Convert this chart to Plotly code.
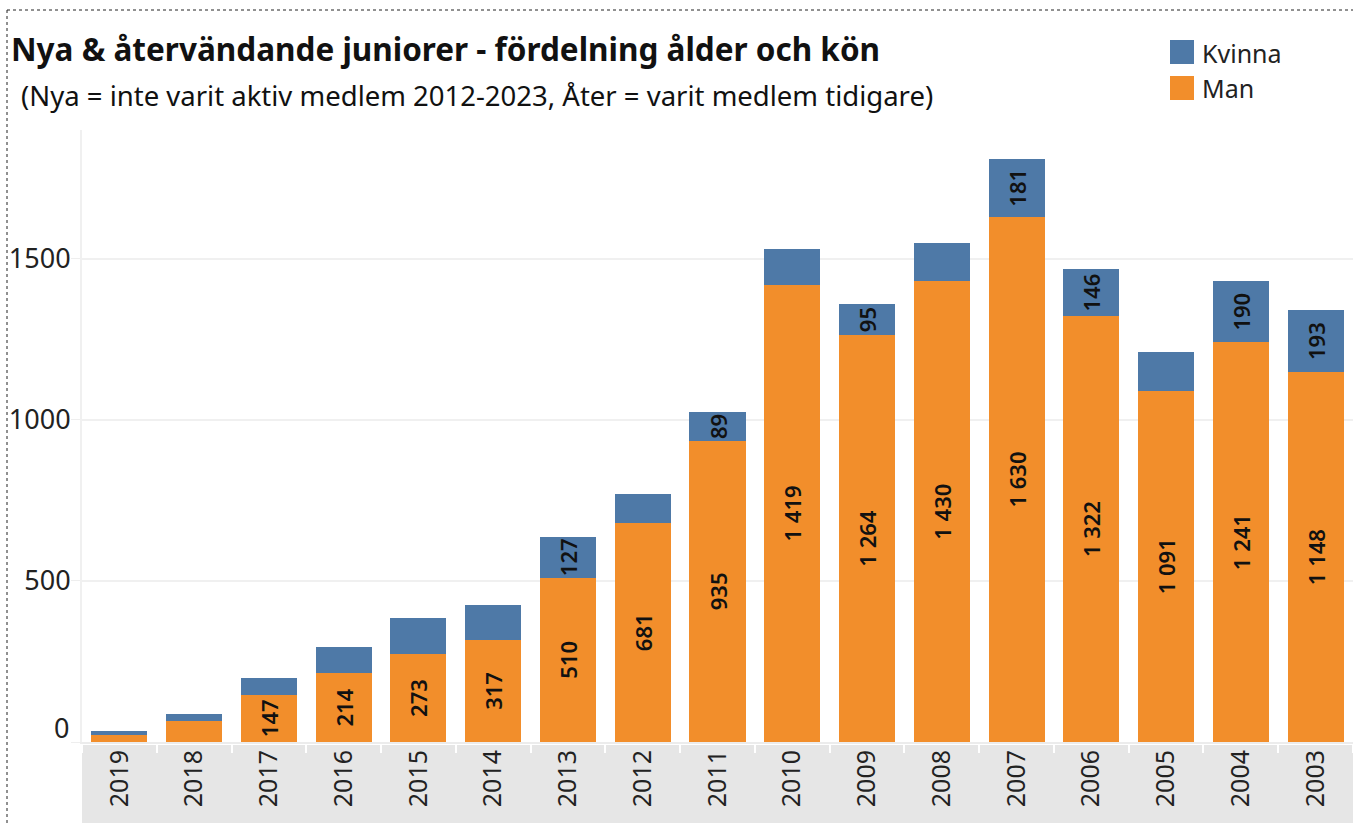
import plotly.graph_objects as go

# ---- data ----
years = ["2019", "2018", "2017", "2016", "2015", "2014", "2013", "2012", "2011",
         "2010", "2009", "2008", "2007", "2006", "2005", "2004", "2003"]
man = [22, 65, 147, 214, 273, 317, 510, 681, 935,
       1419, 1264, 1430, 1630, 1322, 1091, 1241, 1148]
kvinna = [12, 22, 53, 81, 112, 108, 127, 90, 89,
          112, 95, 118, 181, 146, 120, 190, 193]
man_label_shown = [False, False, True, True, True, True, True, True, True,
                   True, True, True, True, True, True, True, True]
kvinna_label_shown = [False, False, False, False, False, False, True, False, True,
                      False, True, False, True, True, False, True, True]
y_ticks = [0, 500, 1000, 1500]

title_text = "Nya & återvändande juniorer - fördelning ålder och kön"
subtitle_text = "(Nya = inte varit aktiv medlem 2012-2023, Åter = varit medlem tidigare)"

# ---- style ----
W, H = 1353, 823
L, R, T, B = 82, 0, 130, 81
BLUE = "#4e79a7"
ORANGE = "#f28e2b"
FONT = "Noto Sans"
TXT = "#222222"


def px2x(px):
    return (px - L) / (W - L - R)


def py2y(py):
    return (H - B - py) / (H - T - B)


def fmt(v):
    return f"{v:,}".replace(",", " ")


man_text = [fmt(v) if s else "" for v, s in zip(man, man_label_shown)]
kv_text = [fmt(v) if s else "" for v, s in zip(kvinna, kvinna_label_shown)]

label_font = dict(family=FONT, size=22, color="#111111", weight=600)

fig = go.Figure()
fig.add_trace(go.Bar(
    x=years, y=man, name="Man", marker=dict(color=ORANGE, line=dict(width=0)),
    text=man_text, textposition="inside", insidetextanchor="middle",
    textangle=-90, constraintext="none", textfont=label_font,
    showlegend=False, hoverinfo="x+y+name"))
fig.add_trace(go.Bar(
    x=years, y=kvinna, name="Kvinna", marker=dict(color=BLUE, line=dict(width=0)),
    text=kv_text, textposition="inside", insidetextanchor="middle",
    textangle=-90, constraintext="none", textfont=label_font,
    showlegend=False, hoverinfo="x+y+name"))

shapes = [
    # gray header band under the x axis
    dict(type="rect", xref="paper", yref="paper",
         x0=0, x1=1, y0=py2y(823), y1=py2y(745),
         fillcolor="#e6e6e6", line=dict(width=0), layer="below"),
    # dotted outer border (left and top)
    dict(type="line", xref="paper", yref="paper",
         x0=px2x(7), x1=px2x(7), y0=py2y(823), y1=py2y(10),
         line=dict(color="#222222", width=1, dash="dot")),
    dict(type="line", xref="paper", yref="paper",
         x0=px2x(7), x1=px2x(1353), y0=py2y(10), y1=py2y(10),
         line=dict(color="#222222", width=1, dash="dot")),
    # legend swatches
    dict(type="rect", xref="paper", yref="paper",
         x0=px2x(1170), x1=px2x(1194), y0=py2y(64), y1=py2y(40),
         fillcolor=BLUE, line=dict(width=0)),
    dict(type="rect", xref="paper", yref="paper",
         x0=px2x(1170), x1=px2x(1194), y0=py2y(100), y1=py2y(76),
         fillcolor=ORANGE, line=dict(width=0)),
]

annotations = [
    dict(text=f"<b>{title_text}</b>", xref="paper", yref="paper",
         x=px2x(9), y=py2y(48), xanchor="left", yanchor="middle",
         showarrow=False, font=dict(family=FONT, size=31.5, color="#111111")),
    dict(text=subtitle_text, xref="paper", yref="paper",
         x=px2x(19), y=py2y(96), xanchor="left", yanchor="middle",
         showarrow=False, font=dict(family=FONT, size=27.5, color="#111111")),
    dict(text="Kvinna", xref="paper", yref="paper",
         x=px2x(1200), y=py2y(53), xanchor="left", yanchor="middle",
         showarrow=False, font=dict(family=FONT, size=25, color=TXT)),
    dict(text="Man", xref="paper", yref="paper",
         x=px2x(1200), y=py2y(88), xanchor="left", yanchor="middle",
         showarrow=False, font=dict(family=FONT, size=25, color=TXT)),
    # the "0" tick label sits raised above the baseline, as in the original
    dict(text=str(y_ticks[0]), xref="paper", yref="y",
         x=px2x(71), y=y_ticks[0], xanchor="right", yanchor="middle", yshift=15,
         showarrow=False, font=dict(family=FONT, size=27, color=TXT)),
]

fig.update_layout(
    barmode="stack", bargap=0.25,
    width=W, height=H,
    margin=dict(l=L, r=R, t=T, b=B, pad=0),
    paper_bgcolor="white", plot_bgcolor="white",
    font=dict(family=FONT, color=TXT),
    showlegend=False,
    shapes=shapes, annotations=annotations,
    xaxis=dict(
        type="category", tickangle=-90, automargin=False,
        tickfont=dict(family=FONT, size=25, color=TXT),
        ticks="outside", tickson="boundaries", ticklen=9, tickcolor="white",
        tickwidth=2, showgrid=False, showline=True, linecolor="#ececec",
        linewidth=2, ticklabelstandoff=-4,
    ),
    yaxis=dict(
        range=[0, 1900], tickvals=y_ticks,
        ticktext=[""] + [str(v) for v in y_ticks[1:]],
        automargin=False,
        tickfont=dict(family=FONT, size=27, color=TXT),
        ticks="outside", ticklen=9, tickcolor="#eeeeee",
        showgrid=True, gridcolor="#f0f0f0", gridwidth=2,
        zeroline=False, showline=True, linecolor="#f0f0f0", linewidth=2,
        ticklabelstandoff=-5,
    ),
)

fig.write_html("out.html", config={"displayModeBar": False},
               post_script="document.body.style.margin='0';")
